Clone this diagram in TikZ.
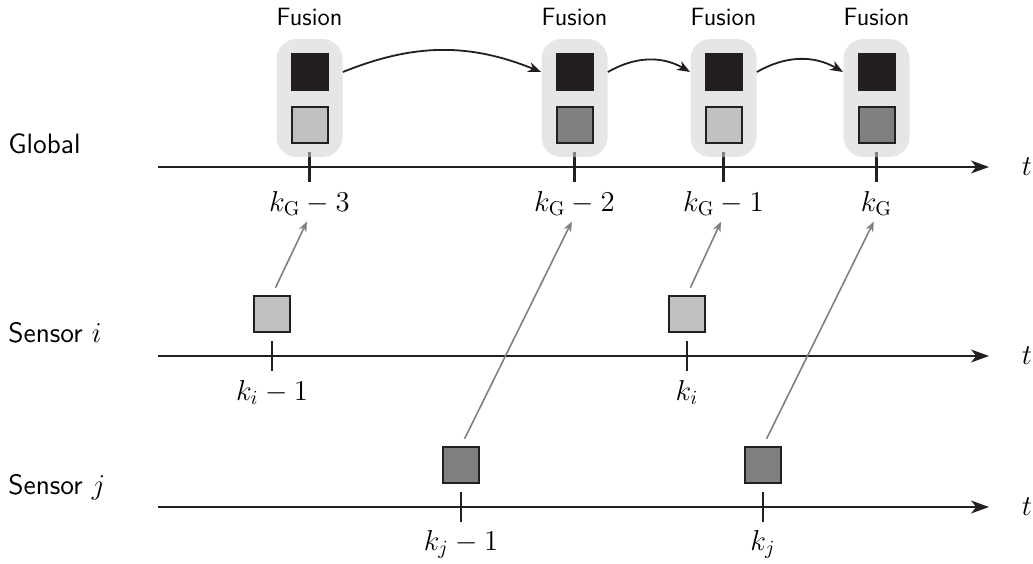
\documentclass[tikz,border=0pt]{standalone}
\usepackage{fontspec}
\usetikzlibrary{arrows.meta}
\definecolor{ink}{HTML}{231F20}
\definecolor{lightest}{HTML}{C0C0C0}
\definecolor{midest}{HTML}{808080}
\definecolor{fusebg}{HTML}{D1D1D1}
\definecolor{link}{HTML}{808080}
\begin{document}
\begin{tikzpicture}[x=0.5pt,y=-0.5pt,
  axisline/.style={line width=0.9pt,draw=ink,-{Stealth[length=9pt,width=6.5pt,inset=2.6pt]}},
  tickmark/.style={line width=1.2pt,draw=ink},
  fusebox/.style={rectangle,rounded corners=10pt,fill=fusebg,fill opacity=0.55,
    minimum width=33pt,minimum height=59pt,inner sep=0pt},
  estbox/.style={rectangle,draw=ink,line width=1pt,minimum size=18pt,inner sep=0pt},
  fused/.style={estbox,fill=ink},
  lightest/.style={estbox,fill=lightest},
  midest/.style={estbox,fill=midest},
  sidelabel/.style={anchor=base west,inner sep=0pt,font=\fontsize{14}{17}\selectfont\sffamily},
  fuselabel/.style={anchor=base,inner sep=0pt,font=\fontsize{12.5}{15}\selectfont\sffamily},
  timelabel/.style={anchor=base,inner sep=0pt,font=\fontsize{14.4}{17}\selectfont},
  flow/.style={line width=0.9pt,draw=ink,-{Stealth[length=6.5pt,width=5pt,inset=2pt]}},
  report/.style={line width=0.8pt,draw=link,-{Stealth[length=5pt,width=4pt,inset=1.5pt]},
    shorten <=4pt,shorten >=3pt}
]
\useasboundingbox (0,0) rectangle (1033,563);

% time axes
\draw[axisline] (158,167) -- (989,167);
\draw[axisline] (158,356) -- (989,356);
\draw[axisline] (158,507) -- (989,507);
\node[timelabel] (tg) at (1027,175) {$t$};
\node[timelabel] (ti) at (1027,364) {$t$};
\node[timelabel] (tj) at (1027,515) {$t$};

% row labels
\node[sidelabel] (lglobal) at (8,153) {Global};
\node[sidelabel] (lsi) at (8,342) {Sensor $i$};
\node[sidelabel] (lsj) at (8,494) {Sensor $j$};

% ticks
\foreach \x in {309.5,574.5,723.5,876.5} \draw[tickmark] (\x,152) -- (\x,182);
\foreach \x in {272,687} \draw[tickmark] (\x,341) -- (\x,371);
\foreach \x in {461,763} \draw[tickmark] (\x,492) -- (\x,522);

% fusion instants on the global axis
\node[fusebox] (f1) at (309.5,98) {};
\node[fusebox] (f2) at (574.5,98) {};
\node[fusebox] (f3) at (723.5,98) {};
\node[fusebox] (f4) at (876.5,98) {};
\foreach \n/\x in {1/309.5,2/574.5,3/723.5,4/876.5}{
  \node[fuselabel] (fl\n) at (\x,25) {Fusion};
  \node[fused] (g\n) at (\x,72) {};
}
\node[lightest] (b1) at (309.5,125) {};
\node[midest]   (b2) at (574.5,125) {};
\node[lightest] (b3) at (723.5,125) {};
\node[midest]   (b4) at (876.5,125) {};

% global time labels
\node[timelabel] (lg1) at (309.5,211) {$k_{\mathrm{G}}-3$};
\node[timelabel] (lg2) at (574.5,211) {$k_{\mathrm{G}}-2$};
\node[timelabel] (lg3) at (723.5,211) {$k_{\mathrm{G}}-1$};
\node[timelabel] (lg4) at (876.5,211) {$k_{\mathrm{G}}$};

% sensor estimates
\node[lightest] (si1) at (272,314) {};
\node[lightest] (si2) at (687,314) {};
\node[midest]   (sj1) at (461,465) {};
\node[midest]   (sj2) at (763,465) {};
\node[timelabel] (li1) at (272,400) {$k_i-1$};
\node[timelabel] (li2) at (687,400) {$k_i$};
\node[timelabel] (lj1) at (461,550) {$k_j-1$};
\node[timelabel] (lj2) at (763,550) {$k_j$};

% propagation between fusion instants
\draw[flow] (f1.east |- g1.center) to[bend left=22] (f2.west |- g2.center);
\draw[flow] (f2.east |- g2.center) to[bend left=30] (f3.west |- g3.center);
\draw[flow] (f3.east |- g3.center) to[bend left=30] (f4.west |- g4.center);

% sensor reports to the fusion centre
\draw[report] (si1.north) -- (lg1.south);
\draw[report] (sj1.north) -- (lg2.south);
\draw[report] (si2.north) -- (lg3.south);
\draw[report] (sj2.north) -- (lg4.south);
\end{tikzpicture}
\end{document}
